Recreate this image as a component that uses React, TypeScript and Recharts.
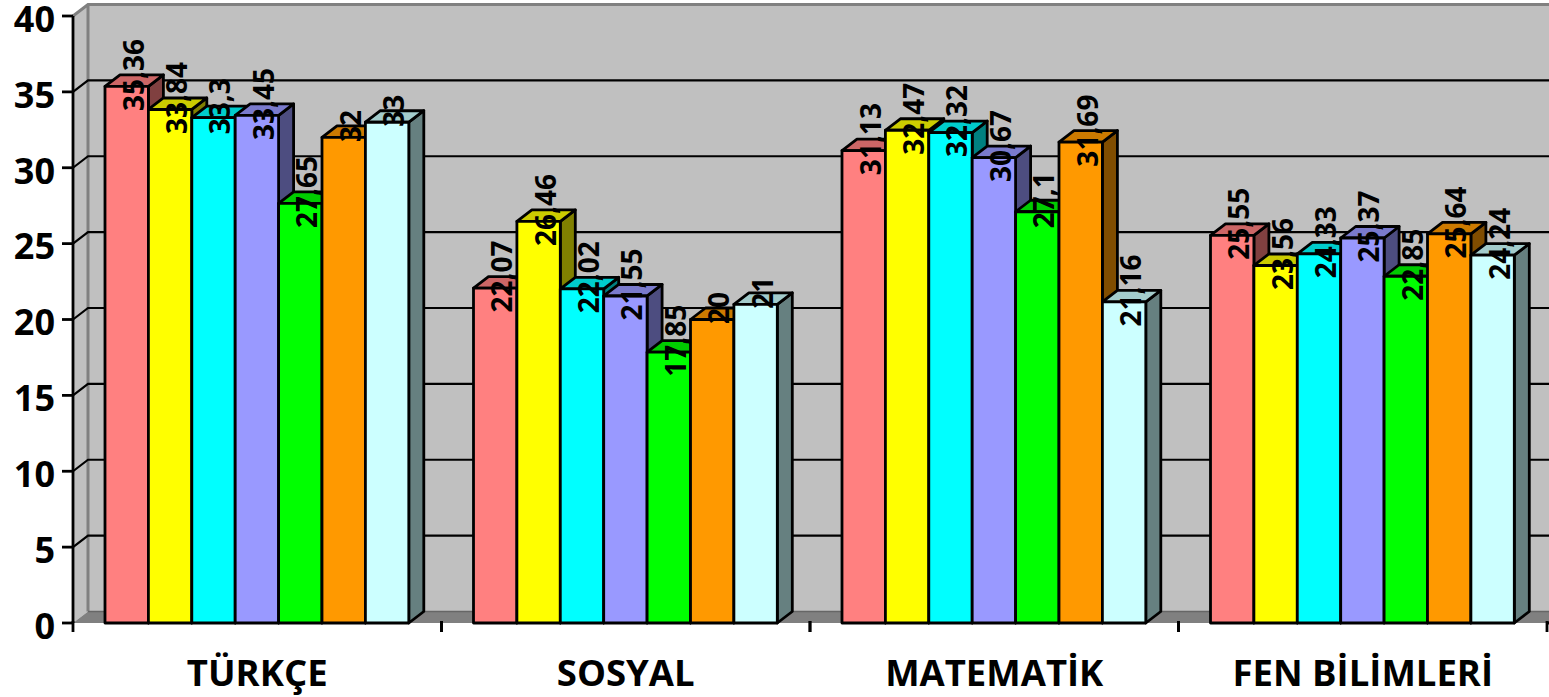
import { BarChart, Bar, XAxis, YAxis, ReferenceArea, LabelList } from "recharts";

const CATEGORIES = ["TÜRKÇE", "SOSYAL", "MATEMATİK", "FEN BİLİMLERİ"];
const SERI_1 = [35.36, 22.07, 31.13, 25.55];
const SERI_2 = [33.84, 26.46, 32.47, 23.56];
const SERI_3 = [33.3, 22.02, 32.32, 24.33];
const SERI_4 = [33.45, 21.55, 30.67, 25.37];
const SERI_5 = [27.65, 17.85, 27.1, 22.85];
const SERI_6 = [32, 20, 31.69, 25.64];
const SERI_7 = [33, 21, 21.16, 24.24];
const Y_TICKS = [0, 5, 10, 15, 20, 25, 30, 35, 40];
const GRID_TICKS = [5, 10, 15, 20, 25, 30, 35];

const SERIES = [SERI_1, SERI_2, SERI_3, SERI_4, SERI_5, SERI_6, SERI_7];
const COLORS = ["#FF8080", "#FFFF00", "#00FFFF", "#9999FF", "#00FF00", "#FF9900", "#CCFFFF"];
const data = CATEGORIES.map((name, i) => {
  const row: Record<string, any> = { name };
  SERIES.forEach((s, k) => { row[`s${k}`] = s[i]; });
  return row;
});

const W = 1549;
const H = 697;
const DX = 15;
const DY = 11.5;
const FONT = '"Open Sans", sans-serif';
const LINE = 2.8;

// darker shade for the top and side faces
function shade(hex: string, f: number) {
  const n = parseInt(hex.slice(1), 16);
  const c = [(n >> 16) & 255, (n >> 8) & 255, n & 255].map((v) => Math.round(v * f));
  return `rgb(${c[0]},${c[1]},${c[2]})`;
}

function Bar3D(props: any) {
  const { x, y, width, height, fill } = props;
  const r = x + width;
  const b = y + height;
  return (
    <g stroke="#000" strokeWidth={LINE} strokeLinejoin="round">
      <path d={`M${r} ${y}L${r + DX} ${y - DY}V${b - DY}L${r} ${b}Z`} fill={shade(fill, 0.5)} />
      <path d={`M${x} ${y}L${x + DX} ${y - DY}H${r + DX}L${r} ${y}Z`} fill={shade(fill, 0.8)} />
      <rect x={x} y={y} width={width} height={height} fill={fill} />
    </g>
  );
}

function Wall(props: any) {
  const { x, y, width, height } = props;
  const r = x + width;
  const b = y + height;
  return (
    <g>
      <path d={`M${x} ${y}L${x + DX} ${y - DY}V${b - DY}L${x} ${b}Z`} fill="#C0C0C0" />
      <rect x={x + DX} y={y - DY} width={W - x - DX} height={height} fill="#C0C0C0" />
      <path d={`M${x} ${b}L${x + DX} ${b - DY}H${W}V${b}Z`} fill="#808080" />
      <path d={`M${x} ${y}L${x + DX} ${y - DY}H${W}M${x + DX} ${y - DY}V${b - DY}`} fill="none" stroke="#808080" strokeWidth={3} />
      <path d={`M${x + DX} ${b - DY}H${W}`} fill="none" stroke="#666" strokeWidth={1.5} />
      <path d={`M${r} ${b}H${W}`} fill="none" stroke="#000" strokeWidth={LINE} />
    </g>
  );
}

// each gridline runs along the side wall and then across the back wall
function GridLine(props: any) {
  const { x, y } = props;
  return <path d={`M${x} ${y}L${x + DX} ${y - DY}H${W}`} fill="none" stroke="#000" strokeWidth={2.2} />;
}

function CatTick(props: any) {
  const { x, y, payload } = props;
  const half = (W - 73 - 2) / CATEGORIES.length / 2;
  return (
    <g>
      <line x1={x - half} x2={x - half} y1={y - 8} y2={y + 3} stroke="#000" strokeWidth={LINE} />
      <line x1={x + half} x2={x + half} y1={y - 8} y2={y + 3} stroke="#000" strokeWidth={LINE} />
      <text x={x} y={y + 57} textAnchor="middle" fontFamily={FONT} fontWeight={700} fontSize={36.5} fill="#000">
        {payload.value}
      </text>
    </g>
  );
}

function RotatedLabel(props: any) {
  const { x, y, width, value } = props;
  const cx = x + width / 2 + 6;
  const cy = y - DY;
  return (
    <text
      x={cx}
      y={cy}
      transform={`rotate(-90 ${cx} ${cy})`}
      textAnchor="middle"
      dominantBaseline="central"
      fontFamily={FONT}
      fontWeight={700}
      fontSize={28}
      fill="#000"
    >
      {String(value).replace(".", ",")}
    </text>
  );
}

export default function App() {
  return (
    <div style={{ position: "absolute", left: 0, top: 0, width: W, height: H, background: "#fff" }}>
      <BarChart
        width={W}
        height={H}
        data={data}
        margin={{ top: 16, right: 2, bottom: 0, left: 0 }}
        barSize={43.4}
        barGap={0}
      >
        <ReferenceArea y1={0} y2={40} ifOverflow="visible" shape={Wall} />
        {GRID_TICKS.map((t) => (
          <ReferenceArea key={t} y1={t} y2={t} ifOverflow="visible" shape={GridLine} />
        ))}
        <XAxis
          dataKey="name"
          height={74}
          interval={0}
          axisLine={false}
          tickLine={false}
          tickMargin={0}
          tick={CatTick}
        />
        <YAxis
          width={73}
          domain={[0, 40]}
          ticks={Y_TICKS}
          interval={0}
          axisLine={{ stroke: "#000", strokeWidth: LINE }}
          tickLine={{ stroke: "#000", strokeWidth: LINE }}
          tickSize={11}
          tickMargin={7}
          tick={{ fontSize: 36, fontWeight: 700, fontFamily: FONT, fill: "#000", dy: 3 }}
        />
        {SERIES.map((_, k) => (
          <Bar key={k} dataKey={`s${k}`} fill={COLORS[k]} shape={Bar3D} isAnimationActive={false}>
            <LabelList dataKey={`s${k}`} content={RotatedLabel} />
          </Bar>
        ))}
      </BarChart>
    </div>
  );
}
